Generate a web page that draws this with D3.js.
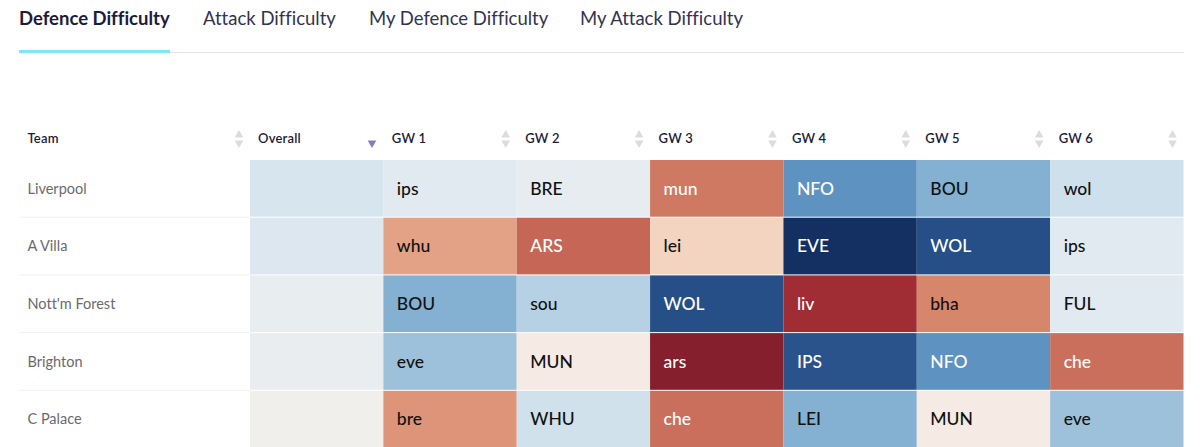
<!DOCTYPE html>
<html>
<head>
<meta charset="utf-8">
<script src="https://d3js.org/d3.v7.min.js"></script>
<style>
html, body { margin: 0; background: #fff; overflow: hidden; }
text { font-family: Lato, sans-serif; font-variant-ligatures: none; }
</style>
</head>
<body>
<svg id="visual1" width="1200" height="447"></svg>
<script>
const svg1 = d3.select('#visual1');

// difficulty: -1 = easiest (dark blue), 1 = hardest (dark red)
const tabs = [
    {name: "Defence Difficulty", x: 19, active: true},
    {name: "Attack Difficulty", x: 203},
    {name: "My Defence Difficulty", x: 369},
    {name: "My Attack Difficulty", x: 580}
];
const columns = ["Overall", "GW 1", "GW 2", "GW 3", "GW 4", "GW 5", "GW 6"];
const rows = [
    {team: "Liverpool", overall: -0.23, cells: [["ips", -0.17], ["BRE", -0.12], ["mun", 0.58], ["NFO", -0.66], ["BOU", -0.5], ["wol", -0.28]]},
    {team: "A Villa", overall: -0.2, cells: [["whu", 0.38], ["ARS", 0.66], ["lei", 0.2], ["EVE", -1], ["WOL", -0.83], ["ips", -0.17]]},
    {team: "Nott'm Forest", overall: -0.1, cells: [["BOU", -0.5], ["sou", -0.38], ["WOL", -0.83], ["liv", 0.84], ["bha", 0.52], ["FUL", -0.17]]},
    {team: "Brighton", overall: -0.08, cells: [["eve", -0.44], ["MUN", 0.08], ["ars", 1], ["IPS", -0.82], ["NFO", -0.66], ["che", 0.62]]},
    {team: "C Palace", overall: 0, cells: [["bre", 0.45], ["WHU", -0.27], ["che", 0.62], ["LEI", -0.5], ["MUN", 0.08], ["eve", -0.44]]}
];

const color = d3.scaleLinear()
    .domain([-1, -0.83, -0.66, -0.5, -0.38, -0.28, -0.16, 0, 0.08, 0.2, 0.38, 0.52, 0.66, 0.83, 1])
    .range(["#142f62", "#264f87", "#5e92c0", "#84b0d2", "#b6d1e3", "#cee0ec", "#e3ebf1", "#f1efec", "#f5eae4", "#f3d4c1", "#e3a285", "#d6866b", "#c56656", "#a22e33", "#851f2e"]);

const x = d3.scaleBand().domain(columns).range([250, 1183.5]);
const y = d3.scaleBand().domain(rows.map(d => d.team)).range([160, 448.5]);

// tabs
svg1.append("line").attr("x1", 19).attr("x2", 1184).attr("y1", 52.5).attr("y2", 52.5)
    .attr("stroke", "#e3e5e8").attr("stroke-width", 1);
svg1.selectAll(".tab").data(tabs).enter().append("text")
    .attr("class", "tab")
    .attr("x", d => d.x).attr("y", 25)
    .attr("font-size", 18.5)
    .attr("font-weight", d => d.active ? 700 : 400)
    .attr("fill", d => d.active ? "#1c1c3c" : "#33334f")
    .text(d => d.name);
svg1.append("rect").attr("x", 19).attr("y", 50).attr("width", 151).attr("height", 3).attr("fill", "#7de8f3");

// header
const headers = [{name: "Team", x: 27.5, arrow: 239}].concat(columns.map((c, i) => ({name: c, x: x(c) + (i == 0 ? 8 : 8.5), arrow: x(c) + x.bandwidth() - 11})));
svg1.selectAll(".head").data(headers).enter().append("text")
    .attr("class", "head")
    .attr("x", d => d.x).attr("y", 143)
    .attr("font-size", 13).attr("font-weight", 600).attr("letter-spacing", 0.2).attr("fill", "#1c1c3c")
    .text(d => d.name);

const tri = d3.symbol().type(d3.symbolTriangle).size(32);
headers.forEach(function(h) {
    if (h.name == "Overall") {
        svg1.append("path").attr("d", tri).attr("fill", "#7c80c8")
            .attr("transform", "translate(" + 372 + ",143) rotate(180)");
    } else {
        svg1.append("path").attr("d", tri).attr("fill", "#dcdcdc")
            .attr("transform", "translate(" + h.arrow + ",135)");
        svg1.append("path").attr("d", tri).attr("fill", "#dcdcdc")
            .attr("transform", "translate(" + h.arrow + ",143) rotate(180)");
    }
});

// table rows
rows.forEach(function(r) {
    const rowY = y(r.team);
    svg1.append("line").attr("x1", 19).attr("x2", 250)
        .attr("y1", rowY + y.bandwidth() - 0.5).attr("y2", rowY + y.bandwidth() - 0.5)
        .attr("stroke", "#f1f1f2");
    svg1.append("text").attr("x", 27.5).attr("y", rowY + 33.5)
        .attr("font-size", 14.5).attr("fill", "#6a6a6e").text(r.team);
    svg1.append("rect").attr("x", x("Overall")).attr("y", rowY)
        .attr("width", x.bandwidth()).attr("height", y.bandwidth() - 1)
        .attr("fill", color(r.overall));
    r.cells.forEach(function(c, i) {
        const col = columns[i + 1];
        svg1.append("rect").attr("x", x(col)).attr("y", rowY)
            .attr("width", x.bandwidth()).attr("height", y.bandwidth() - 1)
            .attr("fill", color(c[1]));
        svg1.append("text").attr("x", x(col) + 13.5).attr("y", rowY + 34.5)
            .attr("font-size", 17.5).attr("font-weight", 500)
            .attr("fill", Math.abs(c[1]) > 0.55 ? "#fff" : "#111")
            .text(c[0]);
    });
});
</script>
</body>
</html>
